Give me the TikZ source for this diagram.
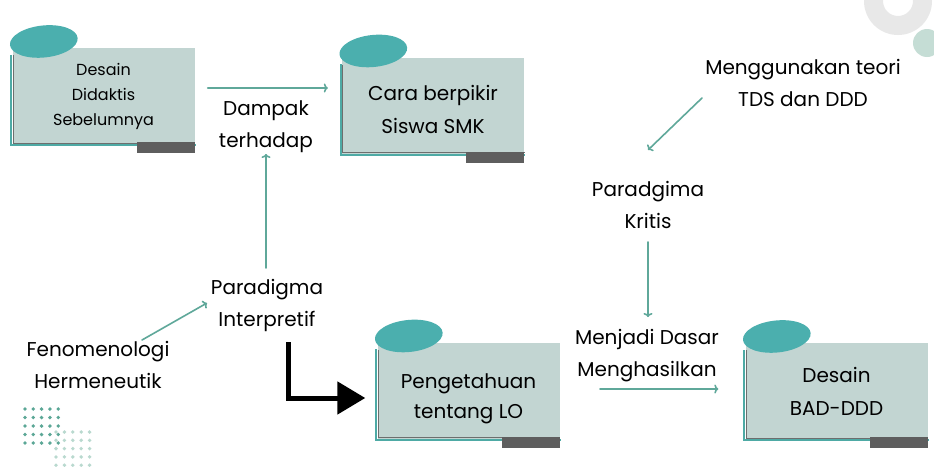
\documentclass[tikz,border=0pt]{standalone}
\usepackage{fontspec}
\setmainfont{Poppins}
\usepackage{tikz}
\usetikzlibrary{calc,arrows.meta}

\begin{document}
\begin{tikzpicture}[x=1pt,y=-1pt,line cap=rect,
		kotak/.style={rectangle, fill=custcol_kotak, minimum width=182pt, minimum height=96pt, inner sep=0, align=center, font=\fontsize{20pt}{33pt}\selectfont},
		teks/.style={inner sep=0, align=center, font=\fontsize{20pt}{32pt}\selectfont},
		panah/.style={line width=1.6pt, custcol_panah, line cap=round, -{To[length=4pt,width=9pt]}},
		panahhitam/.style={line width=5pt, black, line cap=butt, -{Triangle[length=28pt,width=32pt]}}]
				\definecolor{custcol_kotak}{RGB}{194, 213, 210}
				\definecolor{custcol_oval}{RGB}{75, 175, 174}
				\definecolor{custcol_tepi}{RGB}{78, 170, 165}
				\definecolor{custcol_garis}{RGB}{110, 110, 110}
				\definecolor{custcol_bar}{RGB}{94, 94, 94}
				\definecolor{custcol_panah}{RGB}{95, 168, 154}
				\definecolor{custcol_titik}{RGB}{91, 167, 150}
				\definecolor{custcol_titikmuda}{RGB}{185, 217, 207}
				\definecolor{custcol_abu}{RGB}{232, 232, 232}
				\definecolor{custcol_hijau}{RGB}{197, 221, 213}
				\useasboundingbox (0,0) rectangle (934,466);
				\fill [white] (0,0) rectangle (934,466);
				% hiasan
				\begin{scope}
					\clip (0,0) rectangle (934,466);
					\fill [custcol_abu, even odd rule] (898,1) circle (34) (898,1) circle (15);
					\fill [custcol_hijau] (927,43) circle (14);
					\foreach \i in {0,...,4} \foreach \j in {0,...,4}
						\fill [custcol_titikmuda] (56+8.4*\i,432+8.3*\j) circle (1.9);
					\foreach \i in {0,...,4} \foreach \j in {0,...,4}
						\fill [custcol_titik] (25+8.3*\i,409+8.5*\j) circle (1.9);
				\end{scope}
				% kotak
				\node [kotak, font=\fontsize{16pt}{25pt}\selectfont] (lama) at (103.5,96) {Desain\\Didaktis\\Sebelumnya};
				\node [kotak] (cara) at (433,105.5) {\raisebox{-4pt}[\height][\depth]{\parbox{180pt}{\centering Cara berpikir\\Siswa SMK}}};
				\node [kotak, font=\fontsize{20pt}{30pt}\selectfont] (tahu) at (468.5,390.5) {\raisebox{-8pt}[\height][\depth]{\parbox{180pt}{\centering Pengetahuan\\tentang LO}}};
				\node [kotak] (baru) at (836.5,391) {Desain\\BAD-DDD};
				\foreach \k in {lama,cara,tahu,baru} {
					\draw [custcol_tepi, line width=2pt] ($(\k.north west)+(-1,8)$) -- ($(\k.south west)+(-1,1)$) -- ($(\k.south east)+(0,1)$);
					\draw [custcol_garis, line width=1pt] ($(\k.north west)+(1,8)$) -- ($(\k.south west)+(1,-1)$) -- ($(\k.south east)+(0,-1)$);
					\fill [custcol_bar] ($(\k.south east)+(-58,-2)$) rectangle ($(\k.south east)+(0,9)$);
					\fill [custcol_oval, rotate around={6:($(\k.north west)+(32,-3)$)}] ($(\k.north west)+(32,-3)$) ellipse (34 and 16);
				}
				% teks
				\node [teks] (dampak) at (266,127) {Dampak\\terhadap};
				\node [teks] (interpretif) at (267,305) {Paradigma\\Interpretif};
				\node [teks] (fenomen) at (98,365) {Fenomenologi\\Hermeneutik};
				\node [teks] (teori) at (803,83) {Menggunakan teori\\TDS dan DDD};
				\node [teks] (kritis) at (648,205) {Paradgima\\Kritis};
				\node [teks] (dasar) at (647,356) {Menjadi Dasar\\Menghasilkan};
				\coordinate (belok) at (288,342);
				% panah
				\draw [panah] ($(lama.east)+(13,-8)$) -- ($(lama.east -| cara.west)+(-14,-8)$);
				\draw [panah] ($(interpretif)+(-1,-37)$) -- ($(dampak)+(0,27)$);
				\draw [panah] ($(fenomen)+(44,-25)$) -- ($(interpretif)+(-60,-2)$);
				\draw [panah] ($(teori)+(-101,15)$) -- ($(kritis)+(0,-55)$);
				\draw [panah] ($(kritis)+(0,37)$) -- ($(dasar)+(1,-39)$);
				\draw [panah] ($(dasar)+(-47,33)$) -- ($(baru.west)+(-27,-2)$);
				\draw [panahhitam] (belok) |- ($(tahu.west)+(-12,7.5)$);
			\end{tikzpicture}
\end{document}
